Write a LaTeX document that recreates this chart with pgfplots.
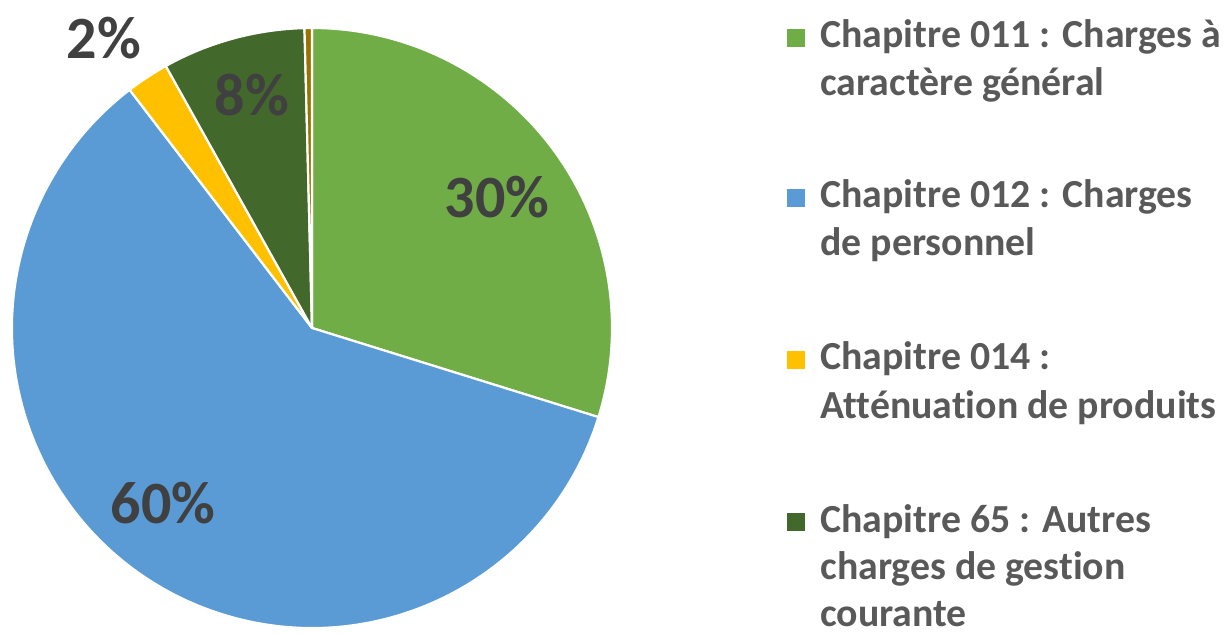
\documentclass[border=0pt]{standalone}
\usepackage{pgfplots}
\usepackage{pgfplotstable}
\pgfplotsset{compat=1.18}
\usepackage{fontspec}
\setmainfont{Carlito}[Ligatures=NoCommon]
\definecolor{cGreen}{HTML}{70AD47}
\definecolor{cBlue}{HTML}{5B9BD5}
\definecolor{cYellow}{HTML}{FFC000}
\definecolor{cDark}{HTML}{43682B}
\definecolor{cBrown}{HTML}{997300}
\definecolor{lblgray}{HTML}{404040}
\definecolor{leggray}{HTML}{595959}

\pgfplotstableread{
value color
29.8 cGreen
59.8 cBlue
2.3 cYellow
7.7 cDark
0.4 cBrown
}\piedata

\begin{document}
\begin{tikzpicture}
\begin{axis}[
  scale only axis, width=614.5pt, height=317.5pt,
  xmin=0, xmax=1229, ymin=0, ymax=635, y dir=reverse,
  hide axis, clip=false,
]
\def\cum{90}
\pgfplotsforeachungrouped \i in {0,...,4}{%
  \pgfplotstablegetelem{\i}{value}\of\piedata \let\v\pgfplotsretval
  \pgfplotstablegetelem{\i}{color}\of\piedata \let\c\pgfplotsretval
  \pgfmathsetmacro\endang{\cum - 3.6*\v}%
  \edef\temp{\noexpand\fill[\c, draw=white, line width=1.1pt, line join=round] (axis cs:312,328) -- ++(\cum:150pt) arc[start angle=\cum, end angle=\endang, radius=150pt] -- cycle;}%
  \temp
  \global\let\cum\endang
}
\tikzset{pct/.style={text=lblgray, font=\fontsize{30}{34}\selectfont\bfseries, inner sep=0pt, anchor=center}}
\node[pct] at (axis cs:497,197) {30\%};
\node[pct] at (axis cs:163,503) {60\%};
\node[pct] at (axis cs:252,95) {8\%};
\node[pct] at (axis cs:104,38) {2\%};
\tikzset{leg/.style={text=leggray, font=\fontsize{19.9}{24}\selectfont\bfseries, inner sep=0pt, anchor=base west}}
\newcommand{\sq}[1]{\textcolor{#1}{\rule[0.7pt]{9pt}{9pt}}\hspace{7.5pt}}
\node[leg] at (axis cs:787,48) {\sq{cGreen}Chapitre 011 : Charges à};
\node[leg] at (axis cs:820,96) {caractère général};
\node[leg] at (axis cs:787,208) {\sq{cBlue}Chapitre 012 : Charges};
\node[leg] at (axis cs:820,256) {de personnel};
\node[leg] at (axis cs:787,370) {\sq{cYellow}Chapitre 014 :};
\node[leg] at (axis cs:820,418) {Atténuation de produits};
\node[leg] at (axis cs:787,532) {\sq{cDark}Chapitre 65 : Autres};
\node[leg] at (axis cs:820,579) {charges de gestion};
\node[leg] at (axis cs:820,626) {courante};
\end{axis}
\pgfresetboundingbox
\path (current axis.south west) rectangle (current axis.north east);
\end{tikzpicture}
\end{document}
